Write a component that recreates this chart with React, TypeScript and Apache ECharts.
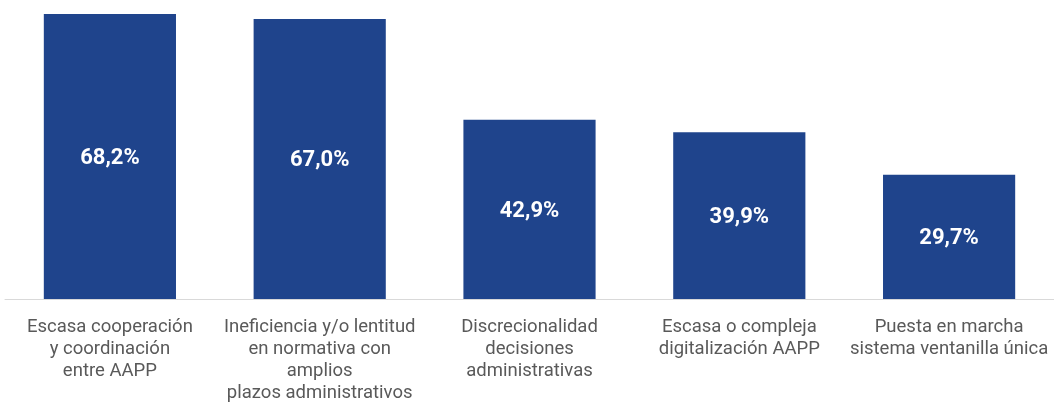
import React, { useEffect, useRef } from "react";
import * as echarts from "echarts";

const categories = [
  "Escasa cooperación\ny coordinación\nentre AAPP",
  "Ineficiencia y/o lentitud\nen normativa con\namplios\nplazos administrativos",
  "Discrecionalidad\ndecisiones\nadministrativas",
  "Escasa o compleja\ndigitalización AAPP",
  "Puesta en marcha\nsistema ventanilla única",
];
const values = [68.2, 67.0, 42.9, 39.9, 29.7];

export default function App() {
  const ref = useRef<HTMLDivElement>(null);
  useEffect(() => {
    if (!ref.current) return;
    const chart = echarts.init(ref.current, null, { renderer: "svg" });
    chart.setOption({
      animation: false,
      grid: { left: 5, width: 1050, top: 6.4, bottom: 103, containLabel: false },
      xAxis: {
        type: "category",
        data: categories,
        axisLine: { lineStyle: { color: "#d9d9d9", width: 1 } },
        axisTick: { show: false },
        axisLabel: {
          interval: 0,
          color: "#595959",
          fontFamily: "Roboto",
          fontSize: 18.5,
          lineHeight: 22,
          margin: 16,
        },
      },
      yAxis: {
        type: "value",
        min: 0,
        max: 70,
        show: false,
        splitLine: { show: false },
      },
      series: [
        {
          type: "bar",
          data: values,
          barWidth: "63%",
          itemStyle: { color: "#1f448c" },
          label: {
            show: true,
            position: "inside",
            color: "#ffffff",
            fontFamily: "Roboto",
            fontWeight: "bold",
            fontSize: 22,
            formatter: (p: any) => p.value.toFixed(1).replace(".", ",") + "%",
          },
        },
      ],
    });
    return () => chart.dispose();
  }, []);
  return (
    <div
      ref={ref}
      style={{ position: "fixed", left: 0, top: 0, width: 1054, height: 403 }}
    />
  );
}
